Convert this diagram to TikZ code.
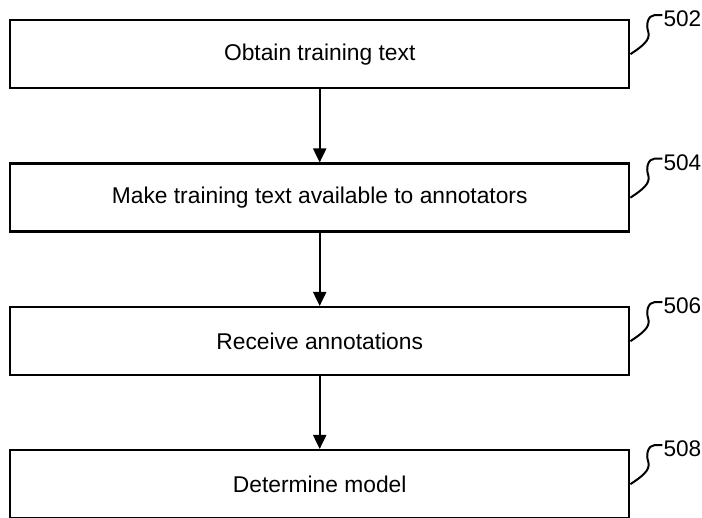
\documentclass[tikz,border=0pt]{standalone}
\usepackage{fontspec}
\setmainfont{Liberation Sans}
\usetikzlibrary{arrows.meta}
\begin{document}
\begin{tikzpicture}[x=1pt,y=-1pt,
  stepbox/.style={draw,line width=2.4pt,minimum width=619pt,minimum height=68pt,inner sep=0pt,anchor=north west,font=\fontsize{22.8}{26}\selectfont},
  flow/.style={line width=2pt,-{Triangle[length=14pt,width=13pt]}},
  leader/.style={line width=2pt},
  reflabel/.style={anchor=west,inner sep=0pt,font=\fontsize{22.6}{26}\selectfont}]
\useasboundingbox (0,0) rectangle (702,518);
\node[stepbox] (s1) at (9,19) {Obtain training text};
\node[stepbox] (s2) at (9,162.5) {Make training text available to annotators};
\node[stepbox] (s3) at (9,306) {Receive annotations};
\node[stepbox] (s4) at (9,449) {Determine model};
\draw[flow] (s1.south) -- (s2.north);
\draw[flow] (s2.south) -- (s3.north);
\draw[flow] (s3.south) -- (s4.north);
% reference-numeral leaders with their numbers
\foreach \s/\n in {s1/502,s2/504,s3/506,s4/508}{
  \coordinate (a\n) at (\s.east);
  \coordinate (e\n) at ([xshift=32pt,yshift=39pt]\s.east);
  \draw[leader] (a\n) .. controls +(12,-8) and +(2,8) .. ([xshift=18pt,yshift=22pt]\s.east)
     .. controls +(-3,-8) and +(-6,0) .. ([xshift=24pt,yshift=39pt]\s.east) -- (e\n);
  \node[reflabel] (l\n) at ([xshift=1pt,yshift=-4pt]e\n) {\n};
}
\end{tikzpicture}
\end{document}
